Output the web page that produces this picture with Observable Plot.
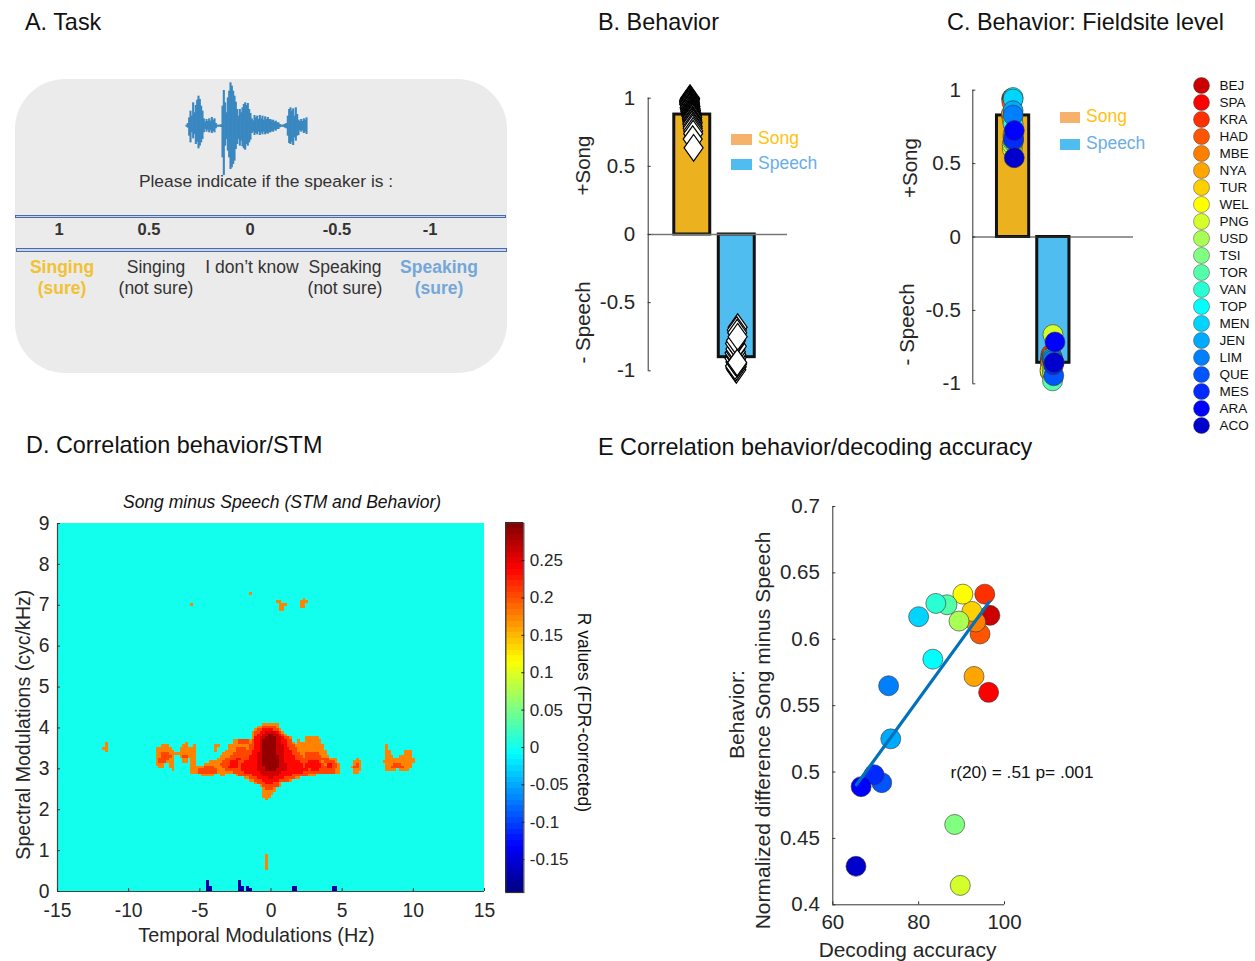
<!DOCTYPE html>
<html><head><meta charset="utf-8">
<script src="https://cdn.jsdelivr.net/npm/d3@7"></script>
<script src="https://cdn.jsdelivr.net/npm/@observablehq/plot@0.6"></script>
<style>
html,body{margin:0;padding:0;background:#fff}
#page{position:relative;width:1255px;height:961px;overflow:hidden;font-family:"Liberation Sans",Arial,sans-serif;color:#111}
.t{position:absolute;white-space:nowrap;line-height:1;transform:translateY(-50%)}
.c{transform:translate(-50%,-50%)}
.box{position:absolute}
svg{position:absolute}
</style></head><body><div id="page"></div>
<script>
// ---------- data ----------
const sites=["BEJ","SPA","KRA","HAD","MBE","NYA","TUR","WEL","PNG","USD","TSI","TOR","VAN","TOP","MEN","JEN","LIM","QUE","MES","ARA","ACO"];
const siteColors=["#CC0000","#FF0000","#FF3000","#FF5500","#FF8000","#FFA500","#FFD000","#FFFF00","#D4FF2A","#AAFF55","#80FF80","#55FFAA","#2AFFD4","#00FFFF","#00D4FF","#00AAFF","#0080FF","#0055FF","#002AFF","#0000FF","#0000CC"];
const decoding=[96.6,96.3,95.4,94.3,93.3,92.9,92.4,90.3,89.7,89.4,88.4,86.6,84,83.3,80,73.5,73,71.4,69.6,66.6,65.4];
const behaviorDiff=[.618,.56,.634,.604,.613,.572,.621,.634,.4146,.6137,.4605,.626,.627,.585,.617,.525,.565,.492,.498,.489,.429];
const fitX=[65.5,96.4], fitY=[.4904,.628];
const siteSong=[.945,.94,.935,.92,.83,.84,.80,.70,.60,.63,.65,.68,.77,.95,.94,.86,.83,.66,.67,.725,.54];
const siteSpeech=[-.83,-.85,-.80,-.82,-.86,-.90,-.92,-.91,-.665,-.90,-.93,-.98,-.82,-.82,-.83,-.83,-.84,-.945,-.87,-.715,-.855];
const siteSongX=[.97,.97,.98,.97,.96,.96,.98,1,.98,.98,1,1,1,1,1,1,1,1.01,1.01,1.03,1.03];
const siteSpeechX=[1.93,1.93,1.94,1.94,1.93,1.92,1.92,1.92,1.99,1.97,1.98,1.98,1.97,1.97,1.97,1.98,1.99,2.01,2,2.04,2.02];
const barsB=[.88,-.90], barsC=[.828,-.857];
const itemsSong=[1,.995,.99,.985,.98,.975,.97,.965,.96,.955,.95,.945,.94,.935,.93,.925,.92,.915,.91,.905,.90,.895,.89,.885,.88,.875,.87,.865,.86,.85,.84,.83,.82,.81,.795,.78,.76,.74,.70,.636];
const itemsSongX=[.95,.95,.94,.94,.93,.94,.93,.95,.94,.93,.95,.95,.96,.95,.94,.96,.96,.95,.97,.96,.96,.97,.98,.97,.98,.99,.98,.99,1,.99,1,1,1.01,1,1.01,1.01,1.02,1.02,1.01,1.03];
const itemsSpeech=[-.993,-.98,-.97,-.965,-.95,-.935,-.92,-.91,-.90,-.89,-.88,-.87,-.86,-.84,-.82,-.80,-.78,-.68,-.70,-.72,-.75,-.94];
const itemsSpeechX=[1.99,1.97,2,1.96,2.01,1.97,1.98,1.95,2,1.97,1.99,1.95,1.98,1.97,2,1.96,1.98,2.02,2,2.01,2.02,2.01];
const waveUp=[3,8,25,45,30,70,40,62,78,90,80,60,45,22,12,20,14,22,15,26,18,22,8,3,3,3,4,60,107,70,40,85,105,130,120,105,90,72,50,30,50,40,55,65,70,62,68,50,38,22,16,32,25,30,20,32,22,30,18,28,20,26,20,20,16,18,12,15,10,10,5,3,3,4,6,8,30,50,55,45,52,30,55,35,18,14,20,14,22,18,25];
const waveDown=[3,6,30,50,20,38,25,55,48,68,60,50,40,20,10,18,12,20,14,22,16,20,8,3,3,3,4,95,148,60,40,75,95,130,125,115,105,70,55,40,60,45,62,68,72,55,60,50,42,22,18,28,22,26,18,28,20,26,18,26,22,24,20,20,16,18,12,15,10,10,5,3,3,4,6,8,30,52,55,48,58,35,45,30,28,14,18,14,22,18,25];
const xTicksD=[-15,-10,-5,0,5,10,15], yTicksD=[0,1,2,3,4,5,6,7,8,9];
const cbarTicks=[-.15,-.1,-.05,0,.05,.1,.15,.2,.25];
// heat-map cells: [row, firstColumn, endColumn]; one column .1875 Hz, one row .0652 cyc/kHz
const heatOrange=[[62,-3,3],[61,-5,3],[60,-6,4],[59,-7,5],[58,-7,6],[57,-7,8],[57,13,18],[56,-14,8],[56,10,11],[56,13,19],[55,-14,9],[55,10,19],[54,-16,20],[54,-21,-19],[53,-16,20],[53,-21,-20],[52,-17,21],[52,-21,-20],[51,-18,21],[50,-19,22],[49,-20,25],[48,-23,25],[47,-25,26],[46,-30,26],[45,-30,26],[44,-30,26],[43,-26,-21],[43,-19,-17],[43,-13,17],[42,-10,11],[41,-8,8],[40,-6,4],[39,-4,4],[38,-3,2],[37,-3,2],[36,-3,1],[35,-3,0],[34,-2,-1],
[55,-62,-61],[54,-62,-61],[53,-63,-61],[52,-62,-61],
[54,-41,-38],[53,-43,-37],[52,-43,-36],[51,-43,-36],[50,-43,-36],[49,-43,-36],[48,-43,-36],[47,-43,-40],[47,-38,-36],[46,-42,-40],[46,-38,-36],[45,-37,-36],
[55,-32,-31],[54,-33,-31],[53,-34,-30],[52,-34,-30],[51,-36,-30],[50,-34,-30],[49,-33,-31],[48,-33,-31],
[54,-29,-28],[53,-30,-28],[52,-30,-28],[51,-30,-28],[50,-30,-28],[49,-30,-28],[48,-30,-28],[47,-30,-28],
[49,32,33],[48,31,34],[47,31,34],[46,30,34],[45,31,34],[44,31,33],
[54,43,44],[53,43,44],[52,43,45],[52,50,53],[51,43,45],[51,50,53],[50,43,46],[50,48,53],[49,43,54],[48,42,54],[47,43,53],[46,43,53],[45,43,47],[45,48,52],
[111,-8,-7],[107,-30,-29],[108,2,4],[107,3,6],[106,3,5],[105,3,5],[109,12,13],[108,11,14],[107,11,13],[106,11,13],
[13,-2,-1],[12,-2,-1],[11,-2,-1],[10,-2,-1],[9,-2,-1],[8,-2,-1]];
const heatDeep=[[61,-3,2],[60,-5,3],[59,-6,4],[58,-6,5],[57,-6,7],[56,-12,-8],[56,-7,8],[55,-12,-8],[55,-7,8],[54,-8,9],[53,-13,-9],[53,-8,10],[52,-13,10],[51,-14,11],[51,13,18],[50,-15,12],[50,13,19],[49,-17,22],[48,-18,19],[48,20,24],[47,-19,20],[47,21,25],[46,-25,-21],[46,-18,21],[46,22,25],[45,-27,-20],[45,-17,24],[44,-27,-20],[44,-14,24],[43,-12,14],[42,-8,9],[41,-6,7],[40,-5,3],[39,-3,3],[38,-2,1],
[51,-41,-38],[50,-41,-37],[49,-42,-38],[48,-42,-39],[50,-33,-31],[47,32,33],[46,31,33],[47,46,49],[46,45,50]];
const heatRed=[[60,-3,1],[59,-4,3],[58,-5,4],[57,-6,5],[56,-6,6],[55,-6,6],[54,-6,6],[53,-6,7],[52,-7,8],[51,-7,8],[50,-8,9],[49,-8,9],[49,-13,-11],[48,-10,11],[48,-15,-12],[48,14,18],[47,-11,12],[47,-15,-12],[47,13,19],[47,21,23],[46,-11,12],[46,-16,-12],[46,13,19],[46,21,23],[45,-11,14],[45,15,18],[44,-10,12],[43,-7,8],[42,-5,5],[41,-3,3],[40,-2,1]];
const heatDark=[[59,-2,2],[58,-3,3],[57,-4,4],[56,-4,4],[55,-4,4],[54,-4,5],[53,-4,5],[52,-4,5],[51,-5,5],[50,-5,5],[49,-5,5],[48,-5,5],[47,-5,6],[46,-5,6],[45,-5,6],[44,-4,4],[43,-3,3],[42,-1,1]];
const heatCore=[[58,-1,1],[57,-2,2],[56,-3,2],[55,-3,2],[54,-3,2],[53,-3,2],[52,-3,2],[51,-3,2],[50,-3,3],[49,-3,3],[48,-3,3],[47,-3,3],[46,-2,3],[45,-2,2]];
const heatBlue=[[0,-24,-22],[1,-24,-22],[2,-24,-23],[3,-24,-23],[0,-12,-10],[1,-12,-10],[2,-12,-11],[3,-12,-11],[0,-9,-7],[1,-9,-8],[0,8,10],[1,8,10],[0,23,25],[1,23,25]];
const heatLevels=[[heatOrange,.175],[heatDeep,.205],[heatRed,.235],[heatDark,.26],[heatCore,.29],[heatBlue,-.175]];

// ---------- helpers ----------
const page=document.getElementById("page");
const FONT='"Liberation Sans",Arial,sans-serif';
function add(svg){page.appendChild(svg);}
function txt(s,x,y,size,extra={}){const d=document.createElement("div");d.className="t";d.textContent=s;
  Object.assign(d.style,{left:x+"px",top:y+"px",fontSize:size+"px"},extra);page.appendChild(d);return d;}
function ctxt(s,x,y,size,extra={}){const d=txt(s,x,y,size,extra);d.classList.add("c");return d;}
function box(x,y,w,h,extra){const d=document.createElement("div");d.className="box";
  Object.assign(d.style,{left:x+"px",top:y+"px",width:w+"px",height:h+"px"},extra);page.appendChild(d);return d;}
function place(left,top,size=20){return {position:"absolute",left:left+"px",top:top+"px",fontFamily:FONT,fontSize:size+"px",background:"transparent",color:"#262626",overflow:"visible"};}
const jet=t=>{const c=v=>Math.round(255*Math.max(0,Math.min(1,v)));
  return `rgb(${c(Math.min(4*t-1.5,-4*t+4.5))},${c(Math.min(4*t-.5,-4*t+3.5))},${c(Math.min(4*t+.5,-4*t+2.5))})`;};
const fmt=d=>String(d);
const tallDiamond={draw(ctx,size){const r=Math.sqrt(size/Math.PI);ctx.moveTo(0,-r*1.4);ctx.lineTo(r,0);ctx.lineTo(0,r*1.4);ctx.lineTo(-r,0);ctx.closePath();}};

// ---------- titles ----------
txt("A. Task",25,23,23.4);
txt("B. Behavior",598,23,23.4);
txt("C. Behavior: Fieldsite level",947,23,23.4);
txt("D. Correlation behavior/STM",26,446,23.4);
txt("E Correlation behavior/decoding accuracy",598,448,23.4);

// ---------- A ----------
box(15,79,492,294,{background:"#ebebeb",borderRadius:"50px"});
const waveData=waveUp.map((u,i)=>({x:48+4*i,u,d:-waveDown[i]}));
add(Plot.plot({width:134,height:105,margin:0,style:place(180,75),
  x:{domain:[30,432],axis:null},y:{domain:[-163,152],axis:null},
  marks:[Plot.ruleX(waveData,{x:"x",y1:"u",y2:"d",stroke:"#3a87c0",strokeWidth:2.1})]}));
ctxt("Please indicate if the speaker is :",266,181.5,17.4,{color:"#333"});
box(15,214.5,491,3,{background:"#c9d3e6",border:"0.8px solid #4a6cab",boxSizing:"border-box"});
box(16,248,491,3.5,{background:"#c9d3e6",border:"0.8px solid #4a6cab",boxSizing:"border-box"});
[["1",59],["0.5",149],["0",250],["-0.5",337],["-1",430]].forEach(([s,x])=>ctxt(s,x,229,16.5,{fontWeight:"bold",color:"#333"}));
[["Singing",62,268],["(sure)",62,289]].forEach(([s,x,y])=>ctxt(s,x,y,17.5,{fontWeight:"bold",color:"#f1c232"}));
[["Speaking",439,268],["(sure)",439,289]].forEach(([s,x,y])=>ctxt(s,x,y,17.5,{fontWeight:"bold",color:"#74a7d8"}));
[["Singing",156,268],["(not sure)",156,289],["I don’t know",252,268],["Speaking",345,268],["(not sure)",345,289]].forEach(([s,x,y])=>ctxt(s,x,y,17.5,{color:"#333"}));

// ---------- B ----------
const songItems=itemsSong.map((y,i)=>({y,x:itemsSongX[i]}));
const speechItems=itemsSpeech.map((y,i)=>({y,x:itemsSpeechX[i]}));
const axisCommon={tickFormat:fmt,label:null};
add(Plot.plot({width:260,height:350,marginLeft:87.7,marginRight:33,marginTop:27.7,marginBottom:350-300.3,style:place(560,70,20.5),
  x:{domain:[.01,3.14]},y:{domain:[-1,1]},
  marks:[
   Plot.rect([0],{x1:.596,x2:1.404,y1:0,y2:barsB[0],fill:"#ecb11f",stroke:"#111",strokeWidth:3}),
   Plot.rect([0],{x1:1.596,x2:2.404,y1:0,y2:barsB[1],fill:"#4fbdf0",stroke:"#111",strokeWidth:3}),
   Plot.ruleY([0],{stroke:"#777",strokeWidth:1.5}),
   Plot.dot(songItems,{x:"x",y:"y",symbol:tallDiamond,r:9.5,fill:"white",stroke:"black",strokeWidth:1.2}),
   Plot.dot(speechItems,{x:"x",y:"y",symbol:tallDiamond,r:9.5,fill:"white",stroke:"black",strokeWidth:1.2}),
   Plot.ruleX([.01],{stroke:"#333"}),
   Plot.axisX({ticks:[],label:null}),
   Plot.axisY({...axisCommon,ticks:[-1,-.5,0,.5,1],tickSize:-3,tickPadding:16,stroke:"#333"}),
   Plot.text(["+Song"],{y:.506,frameAnchor:"left",textAnchor:"middle",dx:-65,rotate:-90,fontSize:20.5}),
   Plot.text(["- Speech"],{y:-.645,frameAnchor:"left",textAnchor:"middle",dx:-65,rotate:-90,fontSize:20.5})
  ]}));
box(731,134,21,11,{background:"#f6b26b"});
txt("Song",758,139,17.5,{color:"#ffc20e"});
box(731,159,21,11,{background:"#4fbdf0"});
txt("Speech",758,164,17.5,{color:"#6aaee8"});

// ---------- C ----------
const siteRows=sites.map((s,i)=>({s,c:siteColors[i],song:siteSong[i],speech:siteSpeech[i],xa:siteSongX[i],xb:siteSpeechX[i]}));
add(Plot.plot({width:260,height:350,marginLeft:82.3,marginRight:17,marginTop:29.7,marginBottom:26.7,style:place(890,60,20.5),
  x:{domain:[0,3.99]},y:{domain:[-1,1]},
  marks:[
   Plot.rect([0],{x1:.6,x2:1.4,y1:0,y2:barsC[0],fill:"#ecb11f",stroke:"#111",strokeWidth:3}),
   Plot.rect([0],{x1:1.6,x2:2.4,y1:0,y2:barsC[1],fill:"#4fbdf0",stroke:"#111",strokeWidth:3}),
   Plot.ruleY([0],{stroke:"#333"}),
   Plot.dot(siteRows,{x:"xa",y:"song",r:10,fill:"c",stroke:"#333",strokeWidth:.6}),
   Plot.dot(siteRows,{x:"xb",y:"speech",r:10,fill:"c",stroke:"#333",strokeWidth:.6}),
   Plot.ruleX([0],{stroke:"#333"}),
   Plot.axisX({ticks:[],label:null}),
   Plot.axisY({...axisCommon,ticks:[-1,-.5,0,.5,1],tickSize:-3,tickPadding:15,stroke:"#333"}),
   Plot.text(["+Song"],{y:.47,frameAnchor:"left",textAnchor:"middle",dx:-62,rotate:-90,fontSize:20.5}),
   Plot.text(["- Speech"],{y:-.595,frameAnchor:"left",textAnchor:"middle",dx:-65,rotate:-90,fontSize:20.5})
  ]}));
box(1060,112,20,10.5,{background:"#f6b26b"});
txt("Song",1086,117,17.5,{color:"#ffc20e"});
box(1060,139,20,10.5,{background:"#4fbdf0"});
txt("Speech",1086,143.5,17.5,{color:"#6aaee8"});

// site legend
add(Plot.plot({width:65,height:370,margin:0,style:place(1190,70,13.5),
  x:{axis:null},y:{type:"point",domain:sites,range:[14.7,355],padding:0,axis:null},
  marks:[
   Plot.dot(siteRows,{y:"s",frameAnchor:"left",dx:11,r:8,fill:"c",stroke:"#444",strokeWidth:.5}),
   Plot.text(siteRows,{y:"s",text:"s",frameAnchor:"left",dx:29,textAnchor:"start",fill:"#111"})
  ]}));

// ---------- D ----------
const cellsD=heatLevels.flatMap(([rows,v])=>rows.map(([r,a,b])=>({x1:a*.1875,x2:b*.1875,y1:r*.0652,y2:(r+1)*.0652,v})));
const colorD={type:"linear",domain:[-.194,.3],interpolate:jet};
add(Plot.plot({width:500,height:471,marginLeft:57,marginRight:16,marginTop:33,marginBottom:70,style:place(0,490,19.3),
  x:{domain:[-15,15]},y:{domain:[0,9]},color:colorD,
  marks:[
   Plot.rect([{v:0}],{x1:()=>-15,x2:()=>15,y1:()=>0,y2:()=>9,fill:"v"}),
   Plot.rect(cellsD,{x1:"x1",x2:"x2",y1:"y1",y2:"y2",fill:"v",shapeRendering:"crispEdges"}),
   Plot.ruleX([-15],{stroke:"#444",strokeWidth:1.2}),
   Plot.ruleY([0],{stroke:"#444",strokeWidth:1.2}),
   Plot.axisX({...axisCommon,ticks:xTicksD,tickSize:-3,tickPadding:15,stroke:"#333"}),
   Plot.axisY({...axisCommon,ticks:yTicksD,tickSize:-3,tickPadding:11,stroke:"#333"}),
   Plot.text(["Temporal Modulations (Hz)"],{x:-1.02,frameAnchor:"bottom",textAnchor:"middle",dy:50,fontSize:19.8}),
   Plot.text(["Spectral Modulations (cyc/kHz)"],{y:4.08,frameAnchor:"left",textAnchor:"middle",dx:-34,rotate:-90,fontSize:19.6})
  ]}));
ctxt("Song minus Speech (STM and Behavior)",282,503,17.5,{fontStyle:"italic",color:"#111"});

// colour bar
const cbarLevels=d3.range(64).map(i=>-.194+i*.494/64);
add(Plot.plot({width:100,height:400,marginLeft:5.3,marginRight:76.7,marginTop:12.7,marginBottom:18,style:place(500,510,17),
  x:{domain:[0,1]},y:{domain:[-.194,.3]},color:colorD,
  marks:[
   Plot.rect(cbarLevels,{x1:()=>0,x2:()=>1,y1:d=>d,y2:d=>d+.494/64+.001,fill:d=>d+.004,shapeRendering:"crispEdges"}),
   Plot.frame({stroke:"#333",strokeWidth:1.2}),
   Plot.axisX({ticks:[],label:null}),
   Plot.axisY({...axisCommon,anchor:"right",ticks:cbarTicks,tickSize:-3,tickPadding:9,stroke:"#222"}),
   Plot.text(["R values (FDR-corrected)"],{y:.047,frameAnchor:"right",textAnchor:"middle",dx:60,rotate:90,fontSize:17.5,fill:"#111"})
  ]}));

// ---------- E ----------
const fit=fitX.map((x,i)=>({x,y:fitY[i]}));
add(Plot.plot({width:330,height:471,marginLeft:112.3,marginRight:46,marginTop:16,marginBottom:56.7,style:place(720,490,20.5),
  x:{domain:[60,100]},y:{domain:[.4,.7]},
  marks:[
   Plot.ruleX([60],{stroke:"#333"}),
   Plot.ruleY([.4],{stroke:"#333"}),
   Plot.axisX({...axisCommon,ticks:[60,80,100],tickSize:-3,tickPadding:13,stroke:"#333"}),
   Plot.axisY({...axisCommon,ticks:[.4,.45,.5,.55,.6,.65,.7],tickSize:-3,tickPadding:16,stroke:"#333"}),
   Plot.dot(sites.map((s,i)=>({x:decoding[i],y:behaviorDiff[i],c:siteColors[i]})),{x:"x",y:"y",r:10,fill:"c",stroke:"#333",strokeWidth:.6}),
   Plot.line(fit,{x:"x",y:"y",stroke:"#0072bd",strokeWidth:3.2}),
   Plot.text(["r(20) = .51 p= .001"],{x:87.4,y:.5,textAnchor:"start",fontSize:17.3,fill:"#111"}),
   Plot.text(["Decoding accuracy"],{x:77.4,frameAnchor:"bottom",textAnchor:"middle",dy:52,fontSize:20.9}),
   Plot.text(["Behavior:"],{y:.5433,frameAnchor:"left",textAnchor:"middle",dx:-96,rotate:-90,fontSize:21}),
   Plot.text(["Normalized difference Song minus Speech"],{y:.5313,frameAnchor:"left",textAnchor:"middle",dx:-70,rotate:-90,fontSize:21})
  ]}));
</script></body></html>
